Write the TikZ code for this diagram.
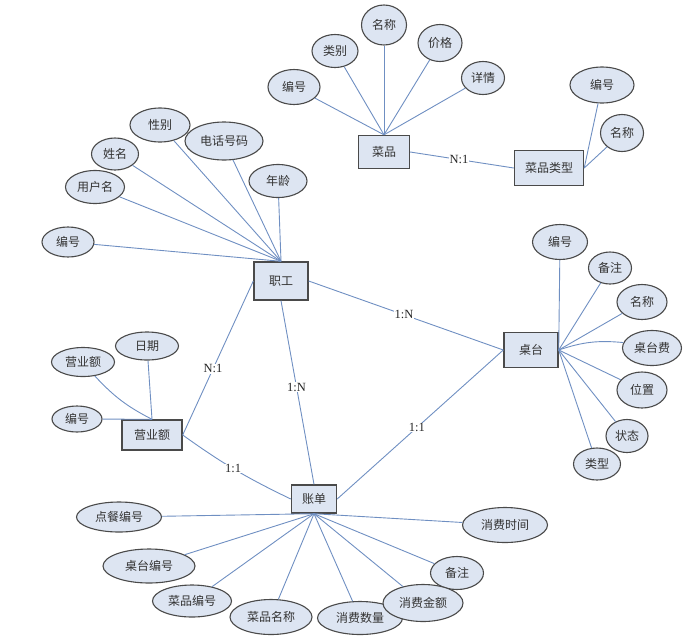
\documentclass[tikz,border=0pt]{standalone}
\usepackage{fontspec}
\setmainfont{Liberation Serif}
\newfontfamily\cjk{Noto Sans CJK SC}
\usetikzlibrary{shapes.geometric}
\definecolor{attrfill}{HTML}{DDE5F2}
\definecolor{linec}{HTML}{6F8FC2}
\definecolor{edgec}{HTML}{4A4A4A}
\begin{document}
\begin{tikzpicture}[x=1pt,y=-1pt,
  attr/.style={ellipse, draw=edgec, line width=1.1pt, fill=attrfill, inner sep=0pt,
    font=\cjk\fontsize{12}{14}\selectfont, text=black!80},
  ent/.style={rectangle, draw=edgec, line width=1.4pt, fill=attrfill, inner sep=0pt,
    font=\cjk\fontsize{12}{14}\selectfont, text=black!80},
  link/.style={draw=linec, line width=0.9pt},
  card/.style={fill=white, inner sep=0.6pt, font=\fontsize{12.5}{14}\selectfont, text=black!85}]
\useasboundingbox (0,0) rectangle (692,643);

% entities
\node[ent, minimum width=54, minimum height=38] (zg) at (281,281) {职工};
\node[ent, minimum width=54, minimum height=35] (zt) at (531,350) {桌台};
\node[ent, minimum width=45, minimum height=28] (zd) at (314,499) {账单};
\node[ent, minimum width=60, minimum height=30] (yy) at (152,435) {营业额};
\node[ent, minimum width=51, minimum height=33] (cp) at (384,152) {菜品};
\node[ent, minimum width=69, minimum height=35] (ct) at (549,168) {菜品类型};

% 菜品 attributes
\node[attr, minimum width=52, minimum height=35] (a1) at (294,87) {编号};
\node[attr, minimum width=46, minimum height=33] (a2) at (335,51) {类别};
\node[attr, minimum width=45, minimum height=40] (a3) at (384,25) {名称};
\node[attr, minimum width=44, minimum height=37] (a4) at (440,43) {价格};
\node[attr, minimum width=43, minimum height=33] (a5) at (483,78) {详情};
% 菜品类型 attributes
\node[attr, minimum width=64, minimum height=36] (b1) at (602,85) {编号};
\node[attr, minimum width=43, minimum height=37] (b2) at (622,133) {名称};
% 职工 attributes
\node[attr, minimum width=52, minimum height=30] (g1) at (68,242) {编号};
\node[attr, minimum width=59, minimum height=33] (g2) at (95,187) {用户名};
\node[attr, minimum width=47, minimum height=32] (g3) at (115,154) {姓名};
\node[attr, minimum width=60, minimum height=34] (g4) at (160,125) {性别};
\node[attr, minimum width=78, minimum height=38] (g5) at (224,141) {电话号码};
\node[attr, minimum width=58, minimum height=33] (g6) at (278,181) {年龄};
% 桌台 attributes
\node[attr, minimum width=55, minimum height=35] (t1) at (560,242) {编号};
\node[attr, minimum width=43, minimum height=32] (t2) at (610,268) {备注};
\node[attr, minimum width=50, minimum height=35] (t3) at (642,302) {名称};
\node[attr, minimum width=59, minimum height=35] (t4) at (652,348) {桌台费};
\node[attr, minimum width=50, minimum height=36] (t5) at (642,390) {位置};
\node[attr, minimum width=42, minimum height=33] (t6) at (627,436) {状态};
\node[attr, minimum width=47, minimum height=32] (t7) at (597,464) {类型};
% 营业额 attributes
\node[attr, minimum width=63, minimum height=29] (y1) at (83,362) {营业额};
\node[attr, minimum width=63, minimum height=28] (y2) at (147,346) {日期};
\node[attr, minimum width=50, minimum height=26] (y3) at (77,419) {编号};
% 账单 attributes
\node[attr, minimum width=85, minimum height=30] (d1) at (119,517) {点餐编号};
\node[attr, minimum width=85, minimum height=35] (d2) at (505,525) {消费时间};
\node[attr, minimum width=92, minimum height=34] (d3) at (149,566) {桌台编号};
\node[attr, minimum width=79, minimum height=32] (d4) at (192,601) {菜品编号};
\node[attr, minimum width=82, minimum height=35] (d5) at (271,617) {菜品名称};
\node[attr, minimum width=85, minimum height=33] (d6) at (360,618) {消费数量};
\node[attr, minimum width=53, minimum height=33] (d7) at (457,573) {备注};
\node[attr, minimum width=80, minimum height=37] (d8) at (423,603) {消费金额};

% attribute connectors
\foreach \a in {a1,a2,a3,a4,a5} \draw[link] (cp.north) -- (\a);
\foreach \a in {b1,b2} \draw[link] (ct.east) -- (\a);
\foreach \a in {g1,g2,g3,g4,g5,g6} \draw[link] (zg.north) -- (\a);
\foreach \a in {t1,t2,t3,t5,t6,t7} \draw[link] (zt.east) -- (\a);
\draw[link] (zt.east) to[bend left=12] (t4);
\draw[link] (yy.north) -- (y2);
\draw[link] (yy.north) to[bend left=10] (y1);
\draw[link] (yy.north) -- (y3);
\foreach \a in {d1,d2,d3,d4,d5,d6,d7,d8} \draw[link] (zd.south) -- (\a);

% relationships
\draw[link] (cp.east) -- node[card, pos=0.47] {N:1} (ct.west);
\draw[link] (zg.east) -- node[card, pos=0.49] {1:N} (zt.west);
\draw[link] (zg.west) -- node[card, pos=0.57] {N:1} (yy.east);
\draw[link] (zg.south) -- node[card, pos=0.47] {1:N} (zd.north);
\draw[link] (yy.east) to[bend right=5] node[card, pos=0.48] {1:1} (zd.west);
\draw[link] (zt.west) -- node[card, pos=0.52] {1:1} (zd.east);
\end{tikzpicture}
\end{document}
